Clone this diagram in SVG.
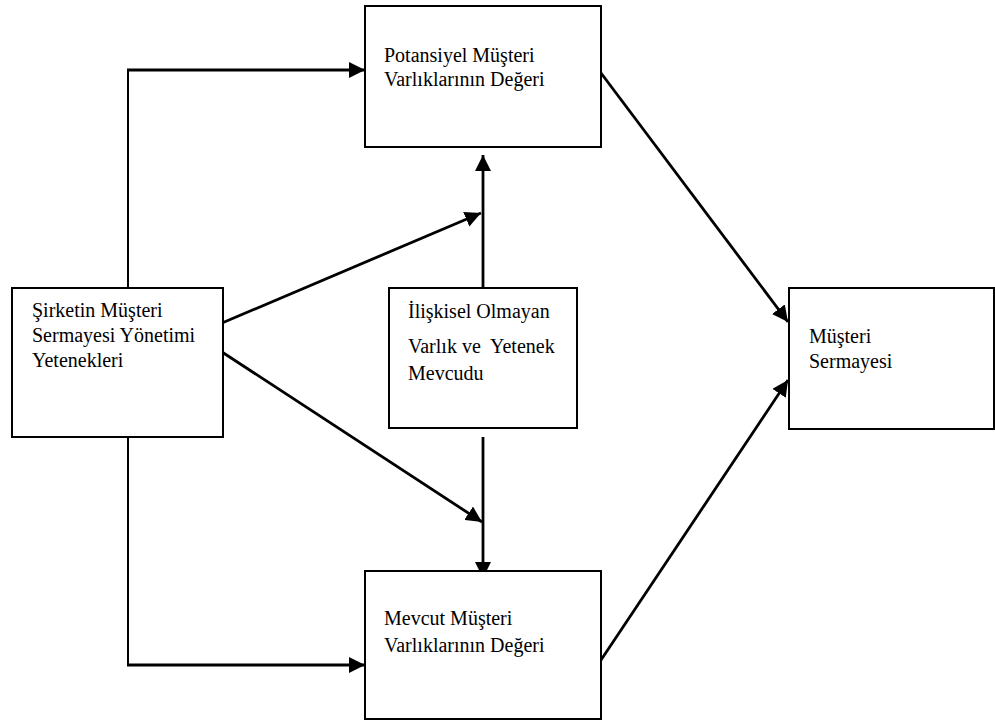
<svg xmlns="http://www.w3.org/2000/svg" width="995" height="722" viewBox="0 0 995 722">
  <style>
    .box { fill: #ffffff; stroke: #000000; stroke-width: 2; }
    .lbl { font-family: "Liberation Serif", "Times New Roman", serif; font-size: 20px; fill: #000000; }
    .wire { fill: none; stroke: #000000; stroke-width: 2.8; }
    .thin { fill: none; stroke: #000000; stroke-width: 2; }
  </style>
  <defs>
    <marker id="head" markerUnits="userSpaceOnUse" markerWidth="18" markerHeight="16" refX="16" refY="8" orient="auto">
      <path d="M0,0 L16,8 L0,16 Z" fill="#000000"/>
    </marker>
  </defs>

  <rect width="995" height="722" fill="#ffffff"/>

  <!-- connectors -->
  <g id="connectors">
    <!-- capability box to potential customer value (top route) -->
    <polyline class="thin" points="128,288 128,70"/>
    <line class="wire" x1="127" y1="70" x2="365" y2="70" marker-end="url(#head)"/>
    <!-- capability box to current customer value (bottom route) -->
    <polyline class="thin" points="128,437 128,665"/>
    <line class="wire" x1="127" y1="665" x2="365" y2="665" marker-end="url(#head)"/>
    <!-- capability box diagonals onto the central uprights -->
    <line class="wire" x1="222" y1="323" x2="481" y2="213" marker-end="url(#head)"/>
    <line class="wire" x1="222" y1="352" x2="482" y2="522" marker-end="url(#head)"/>
    <!-- non-relational assets up and down -->
    <line class="wire" x1="483" y1="288" x2="483" y2="155" marker-end="url(#head)"/>
    <line class="wire" x1="483" y1="437" x2="483" y2="578" marker-end="url(#head)"/>
    <!-- both value boxes into customer equity -->
    <line class="wire" x1="598" y1="69" x2="788" y2="322" marker-end="url(#head)"/>
    <line class="wire" x1="599" y1="663" x2="788" y2="380" marker-end="url(#head)"/>
  </g>

  <g id="node-capabilities">
    <rect class="box" x="12" y="288" width="211" height="149"/>
    <text class="lbl" x="32" y="317">Şirketin Müşteri</text>
    <text class="lbl" x="32" y="342">Sermayesi Yönetimi</text>
    <text class="lbl" x="32" y="367">Yetenekleri</text>
  </g>

  <g id="node-potential">
    <rect class="box" x="365" y="6" width="236" height="141"/>
    <text class="lbl" x="384" y="62">Potansiyel Müşteri</text>
    <text class="lbl" x="384" y="86">Varlıklarının Değeri</text>
  </g>

  <g id="node-nonrelational">
    <rect class="box" x="389" y="288" width="188" height="140"/>
    <text class="lbl" x="408" y="318">İlişkisel Olmayan</text>
    <text class="lbl" x="408" y="353" xml:space="preserve">Varlık ve  Yetenek</text>
    <text class="lbl" x="408" y="380">Mevcudu</text>
  </g>

  <g id="node-current">
    <rect class="box" x="365" y="571" width="236" height="148"/>
    <text class="lbl" x="384" y="625">Mevcut Müşteri</text>
    <text class="lbl" x="384" y="652">Varlıklarının Değeri</text>
  </g>

  <g id="node-equity">
    <rect class="box" x="789" y="288" width="205" height="141"/>
    <text class="lbl" x="809" y="343">Müşteri</text>
    <text class="lbl" x="809" y="368">Sermayesi</text>
  </g>
</svg>
